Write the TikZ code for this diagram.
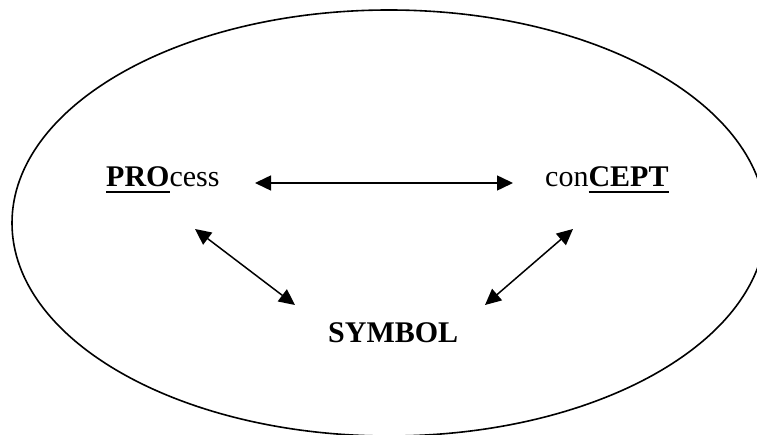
\documentclass[tikz,border=0pt]{standalone}
\usepackage{fontspec}
\setmainfont{Liberation Serif}
\usetikzlibrary{arrows.meta}
\newcommand\ulbold[1]{\setbox0\hbox{\textbf{#1}}\rlap{\rule[-6.5pt]{\wd0}{2.5pt}}\box0}
\tikzset{
  lbl/.style={inner sep=0pt, anchor=base west, font=\fontsize{30}{36}\selectfont},
  arr/.style={line width=1.5pt, {Triangle[length=16pt,width=15pt]}-{Triangle[length=16pt,width=15pt]}},
  oval/.style={line width=1.6pt}
}
\begin{document}
\begin{tikzpicture}[x=1pt,y=-1pt]
\useasboundingbox (0,0) rectangle (757,435);
\begin{scope}
\clip (0,0) rectangle (757,435);
\draw[oval] (389,223) ellipse [x radius=377, y radius=213];
\end{scope}
\node[lbl] (proc) at (106,187) {\ulbold{PRO}cess};
\node[lbl] (conc) at (545,187) {con\ulbold{CEPT}};
\node[lbl] (sym) at (328,342) {\textbf{SYMBOL}};
\coordinate (pr) at (255,183);
\coordinate (cl) at (513,183);
\coordinate (pd) at (195,229);
\coordinate (sl) at (295,305);
\coordinate (cd) at (573,229);
\coordinate (sr) at (485,305);
\draw[arr] (pr) -- (cl);
\draw[arr] (pd) -- (sl);
\draw[arr] (cd) -- (sr);
\end{tikzpicture}
\end{document}
